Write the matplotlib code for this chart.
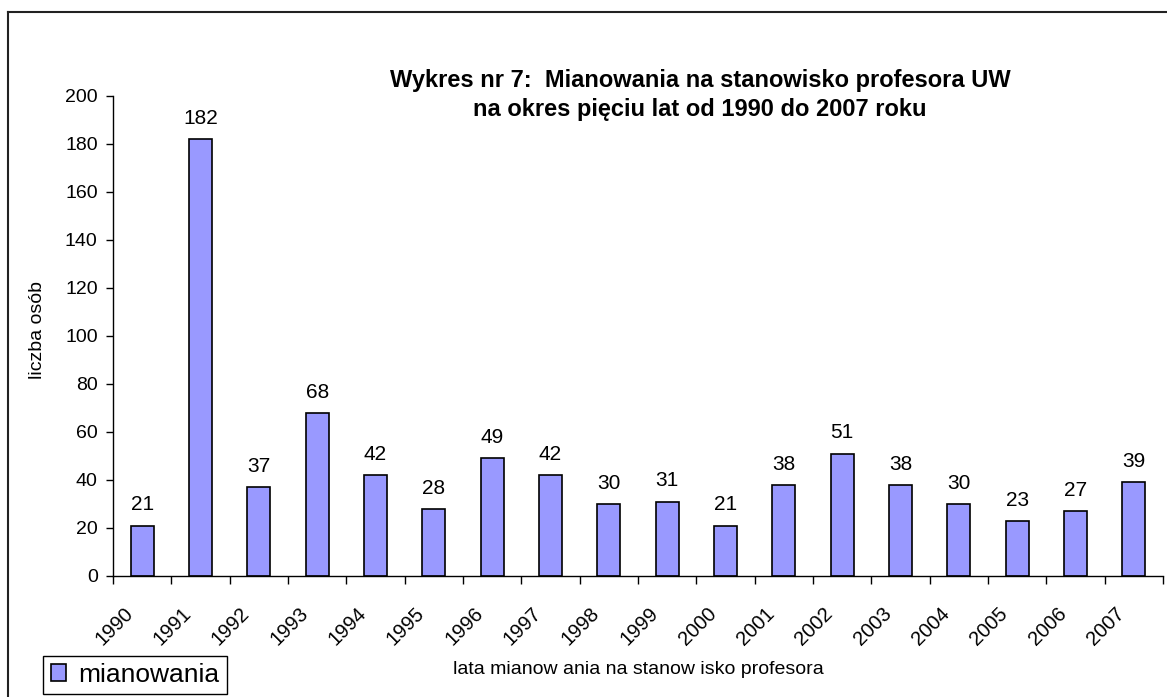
import matplotlib.pyplot as plt
import matplotlib.transforms as mtransforms
import numpy as np

plt.rcParams['font.family'] = ['Liberation Sans', 'DejaVu Sans']

years = ['1990', '1991', '1992', '1993', '1994', '1995', '1996', '1997', '1998',
         '1999', '2000', '2001', '2002', '2003', '2004', '2005', '2006', '2007']
mianowania = [21, 182, 37, 68, 42, 28, 49, 42, 30, 31, 21, 38, 51, 38, 30, 23, 27, 39]

W, H = 1167, 697
fig = plt.figure(figsize=(W / 100, H / 100), dpi=100)
ax = fig.add_axes([113 / W, 1 - 576 / H, (1163 - 113) / W, (576 - 96) / H])

x = np.arange(len(years))
bars = ax.bar(x, mianowania, width=0.39, color='#9999FF', edgecolor='black',
              linewidth=1.2, label='mianowania')

for xi, v in zip(x, mianowania):
    ax.annotate(str(v), (xi, v), xytext=(0, 11), textcoords='offset points',
                ha='center', va='baseline', fontsize=15)

ax.set_xlim(-0.5, len(years) - 0.5)
ax.set_ylim(0, 200)
ax.set_yticks(np.arange(0, 201, 20))
ax.tick_params(axis='y', length=5, width=1, pad=6, labelsize=14, direction='out')

# labels centred under bars, tick marks on the category boundaries
ax.set_xticks(x)
ax.set_xticklabels(years, rotation=45, ha='right', va='top',
                   rotation_mode='anchor', fontsize=14.5)
ax.tick_params(axis='x', which='major', length=0, pad=20)
ax.set_xticks(np.arange(-0.5, len(years), 1), minor=True)
ax.tick_params(axis='x', which='minor', length=6, width=1, direction='out')
shift = mtransforms.ScaledTranslation(-19 / 100, 0, fig.dpi_scale_trans)
for lbl in ax.get_xticklabels():
    lbl.set_transform(lbl.get_transform() + shift)

for side in ['top', 'right']:
    ax.spines[side].set_visible(False)
for side in ['left', 'bottom']:
    ax.spines[side].set_linewidth(1)

fig.text(700 / W, 1 - 95 / H,
         'Wykres nr 7:  Mianowania na stanowisko profesora UW\nna okres pięciu lat od 1990 do 2007 roku',
         ha='center', va='center', fontsize=17, fontweight='bold', linespacing=1.3)
fig.text(38 / W, 1 - 330 / H, 'liczba osób', rotation=90, ha='center', va='center', fontsize=14)
fig.text(638 / W, 1 - 669 / H, 'lata mianow ania na stanow isko profesora',
         ha='center', va='center', fontsize=14)

leg = fig.legend(handles=[bars], loc='center', bbox_to_anchor=(135 / W, 1 - 675 / H),
                 fontsize=19, fancybox=False, edgecolor='black', framealpha=1,
                 handlelength=0.6, handleheight=0.6, handletextpad=0.45,
                 borderpad=0.28, borderaxespad=0)
leg.get_frame().set_linewidth(1)

# chart area border (left and top edges visible)
fig.add_artist(plt.Line2D([8 / W, 8 / W], [0, 1 - 12 / H], color='#222222', lw=1.5))
fig.add_artist(plt.Line2D([8 / W, 1], [1 - 12 / H, 1 - 12 / H], color='#222222', lw=1.5))

fig.savefig('out.png', dpi=100)
